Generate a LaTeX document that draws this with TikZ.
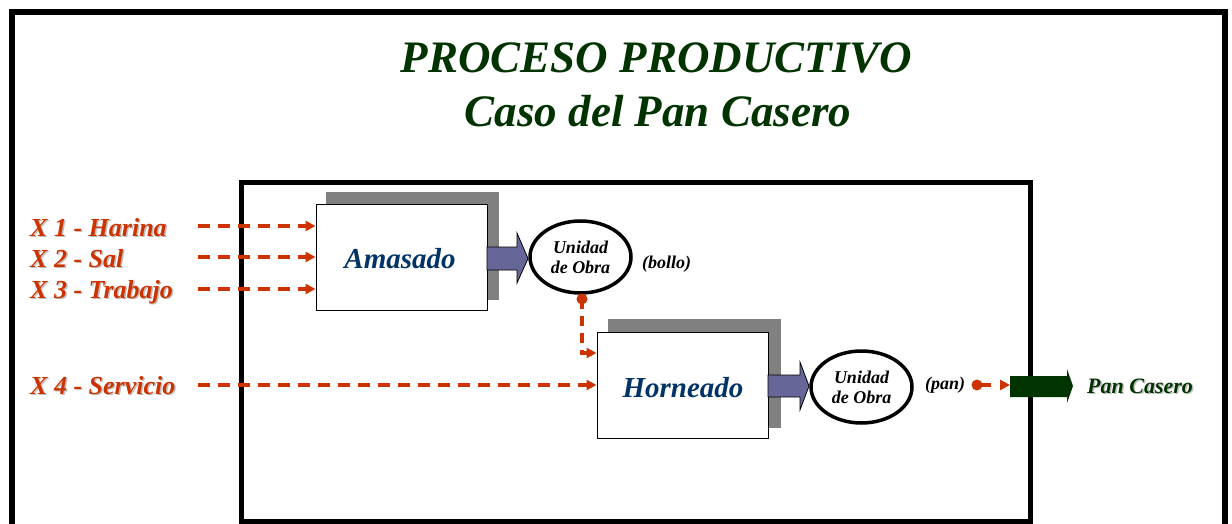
\documentclass[tikz,border=0pt]{standalone}
\usepackage{fontspec}
\setmainfont{Liberation Serif}
\usetikzlibrary{arrows.meta,shapes.geometric}
\definecolor{orng}{RGB}{204,51,0}
\definecolor{dgreen}{RGB}{0,51,0}
\definecolor{dblue}{RGB}{0,51,102}
\definecolor{purp}{RGB}{102,102,153}
\definecolor{shgray}{RGB}{128,128,128}
\begin{document}
\begin{tikzpicture}[x=1pt,y=-1pt,
  bi/.style={font=\fontsize{#1}{#1}\selectfont\bfseries\itshape},
  lbl/.style={anchor=base west,inner sep=0,text=orng,bi=26},
  lblsh/.style={anchor=base west,inner sep=0,text=black!25,bi=26},
  procbox/.style={draw=black,line width=1pt,fill=white,minimum width=171pt,minimum height=106pt,inner sep=0},
  proctext/.style={anchor=base,inner sep=0,text=dblue,bi=29},
  unit/.style={ellipse,draw=black,line width=3.5pt,minimum width=101pt,minimum height=72pt,inner sep=0,align=center,font=\fontsize{18}{20}\selectfont\bfseries\itshape},
  dasharr/.style={draw=orng,line width=3.2pt,dash pattern=on 12pt off 8pt,-{Triangle[length=10pt,width=10pt]}},
  blockarr/.style={fill=purp,draw=black,line width=0.8pt},
  small/.style={anchor=base west,inner sep=0,bi=18}
]
\useasboundingbox (0,0) rectangle (1232,524);
% outer frame (open at the bottom)
\draw[line width=6pt] (12,530) -- (12,12) -- (1225,12) -- (1225,530);
% inner box
\draw[line width=5pt] (241.5,182.5) rectangle (1030.5,521);

% title
\node[anchor=base,inner sep=0,text=dgreen,bi=45] (t1) at (656.5,73) {PROCESO PRODUCTIVO};
\node[anchor=base,inner sep=0,text=dgreen,bi=45] (t2) at (658,127) {Caso del Pan Casero};

% process boxes with shadows
\fill[shgray] (326,192) rectangle (499,300);
\node[procbox] (amasado) at (401.5,257) {};
\node[proctext] (amasadot) at (400,268) {Amasado};
\fill[shgray] (608,319) rectangle (781,428);
\node[procbox] (horneado) at (682.5,385) {};
\node[proctext] (horneadot) at (683,397) {Horneado};

% units of work
\node[unit] (u1) at (580.5,257) {Unidad\\de Obra};
\node[unit] (u2) at (861.5,387) {Unidad\\de Obra};
\node[small] (bollo) at (642,268) {(bollo)};
\node[small] (pan) at (925,389) {(pan)};

% block arrows
\path[blockarr] (487,247) -- (517,247) -- (517,233) -- (528,258.5) -- (517,283) -- (517,270) -- (487,270) -- cycle;
\path[blockarr] (768,375) -- (800,375) -- (800,362) -- (809,386) -- (800,410) -- (800,397) -- (768,397) -- cycle;
\fill[dgreen] (1010,376) -- (1067,376) -- (1067,369) -- (1073,386) -- (1067,403) -- (1067,397) -- (1010,397) -- cycle;

% input labels (with soft shadows)
\node[lblsh] (x1s) at (31.5,237.5) {X 1 - Harina};
\node[lblsh] (x2s) at (31.5,268.5) {X 2 - Sal};
\node[lblsh] (x3s) at (31.5,299.5) {X 3 - Trabajo};
\node[lblsh] (x4s) at (31.5,395.5) {X 4 - Servicio};
\node[lbl] (x1) at (30,236) {X 1 - Harina};
\node[lbl] (x2) at (30,267) {X 2 - Sal};
\node[lbl] (x3) at (30,298) {X 3 - Trabajo};
\node[lbl] (x4) at (30,394) {X 4 - Servicio};

% input connectors
\coordinate (s1) at (198,226);
\coordinate (s2) at (198,257);
\coordinate (s3) at (198,289);
\coordinate (s4) at (198,385);
\draw[dasharr] (s1) -- (s1 -| amasado.west);
\draw[dasharr] (s2) -- (s2 -| amasado.west);
\draw[dasharr] (s3) -- (s3 -| amasado.west);
\draw[dasharr] (s4) -- (s4 -| horneado.west);

% bollo to horneado
\coordinate (d1) at (582,299);
\coordinate (c1) at (582,353);
\fill[orng] (d1) circle (5.5pt);
\draw[dasharr,dash pattern=on 10pt off 7pt] (d1) -- (c1) -- (c1 -| horneado.west);

% pan to output
\coordinate (d2) at (977,385);
\coordinate (g1) at (1010,385);
\fill[orng] (d2) circle (5.5pt);
\draw[dasharr,dash pattern=on 14pt off 9pt] (d2) -- (g1);

% output label
\node[anchor=base west,inner sep=0,text=black!25,bi=22] (outs) at (1088.5,394.5) {Pan Casero};
\node[anchor=base west,inner sep=0,text=dgreen,bi=22] (out) at (1087,393) {Pan Casero};
\end{tikzpicture}
\end{document}
